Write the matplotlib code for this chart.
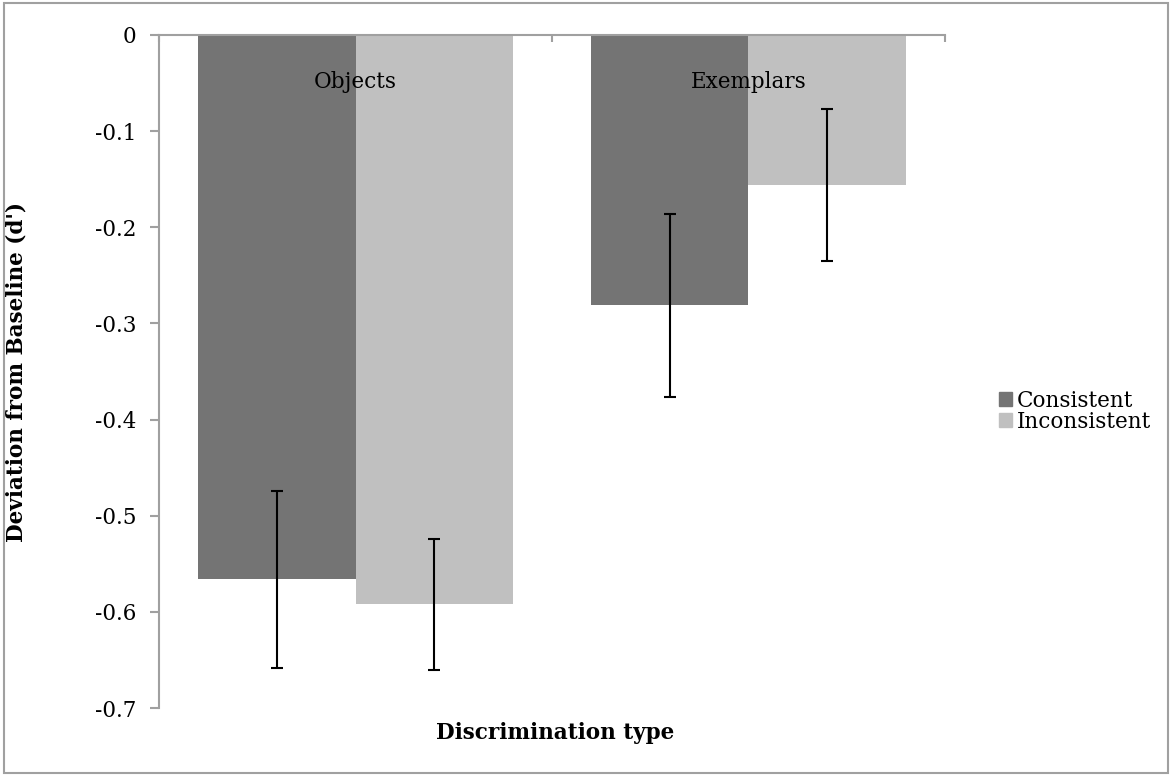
import numpy as np
import matplotlib
matplotlib.use("Agg")
from matplotlib import pyplot as plt
from matplotlib.patches import Patch, Rectangle

plt.rcParams["font.family"] = ["DejaVu Serif"]
plt.rcParams["axes.unicode_minus"] = False

categories = ["Objects", "Exemplars"]
series = ["Consistent", "Inconsistent"]
consistent = [-0.566, -0.281]
inconsistent = [-0.592, -0.156]
consistent_err = [0.092, 0.095]
inconsistent_err = [0.068, 0.079]
yticks = [0, -0.1, -0.2, -0.3, -0.4, -0.5, -0.6, -0.7]
ytick_labels = ["0", "-0.1", "-0.2", "-0.3", "-0.4", "-0.5", "-0.6", "-0.7"]

colors = ["#747474", "#c0c0c0"]
axis_gray = "#a0a0a0"
fs = 15.5

fig = plt.figure(figsize=(11.72, 7.76), dpi=100)
ax = fig.add_axes([0.1357, 0.0876, 0.6706, 0.8673])

x = np.arange(len(categories))
w = 0.4
ax.bar(x - w / 2, consistent, w, color=colors[0], label=series[0])
ax.bar(x + w / 2, inconsistent, w, color=colors[1], label=series[1])
ax.errorbar(x - w / 2, consistent, yerr=consistent_err, fmt="none",
            ecolor="black", elinewidth=1.5, capsize=4.3, capthick=1.5)
ax.errorbar(x + w / 2, inconsistent, yerr=inconsistent_err, fmt="none",
            ecolor="black", elinewidth=1.5, capsize=4.3, capthick=1.5)

ax.set_xlim(-0.5, len(categories) - 0.5)
ax.set_ylim(-0.7, 0)

# axis lines: y axis on the left, category axis along y = 0 (top)
for side in ["right", "bottom"]:
    ax.spines[side].set_visible(False)
for side in ["left", "top"]:
    ax.spines[side].set_color(axis_gray)
    ax.spines[side].set_linewidth(1.5)

ax.set_yticks(yticks)
ax.set_yticklabels(ytick_labels, fontsize=fs)
ax.tick_params(axis="y", direction="out", length=6.5, width=1.5,
               color=axis_gray, pad=10)

ax.xaxis.set_ticks_position("top")
ax.set_xticks(np.arange(len(categories) + 1) - 0.5)
ax.tick_params(axis="x", direction="in", length=5, width=1.5,
               color=axis_gray, labeltop=False, labelbottom=False)

for i, cat in enumerate(categories):
    ax.annotate(cat, (x[i], 0), xytext=(0, -47), textcoords="offset pixels",
                ha="center", va="center", fontsize=fs)

ax.set_ylabel("Deviation from Baseline (d')", fontsize=fs, fontweight="bold")
ax.yaxis.set_label_coords(-0.168, 0.5)
fig.text(0.4735, 0.0555, "Discrimination type", fontsize=fs,
         fontweight="bold", ha="center", va="center")

handles = [Patch(color=colors[0], label=series[0]),
           Patch(color=colors[1], label=series[1])]
fig.legend(handles=handles, loc="center left", bbox_to_anchor=(0.845, 0.470),
           frameon=False, fontsize=fs, handlelength=0.6, handleheight=0.6,
           handletextpad=0.25, labelspacing=-0.05, borderaxespad=0)

fig.patches.append(Rectangle((0.003, 0.004), 0.994, 0.992, transform=fig.transFigure,
                             fill=False, edgecolor=axis_gray, linewidth=1.5))

fig.savefig("out.png", dpi=100)
